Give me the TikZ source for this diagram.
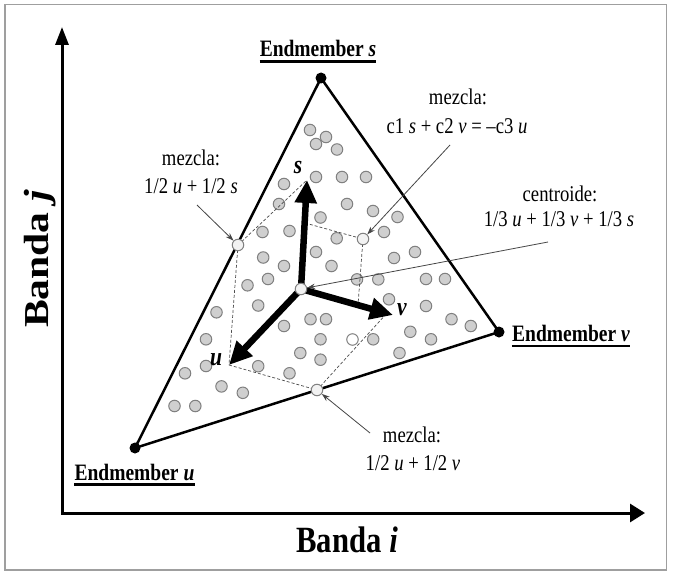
\documentclass[tikz,border=0pt]{standalone}
\usepackage{fontspec}
\setmainfont{Liberation Serif}
\newfontfamily\lblfont{Liberation Serif}[FakeStretch=0.83]
\newfontfamily\vfont{Liberation Serif}[FakeStretch=1.19]
\usetikzlibrary{arrows.meta}
\begin{document}
\begin{tikzpicture}[x=1pt,y=-1pt,
  frame/.style={draw=gray!75,line width=1.5pt},
  axis/.style={line width=3pt,line join=miter},
  tri/.style={line width=2.5pt,line join=round},
  vert/.style={circle,fill=black,minimum size=11pt,inner sep=0pt},
  dot/.style={circle,draw=gray,fill=gray!38,line width=1pt,minimum size=11.5pt,inner sep=0pt},
  wdot/.style={circle,draw=gray,fill=white,line width=1pt,minimum size=11.5pt,inner sep=0pt},
  mix/.style={circle,draw=gray,fill=gray!10,line width=1pt,minimum size=11.5pt,inner sep=0pt},
  guide/.style={draw=gray!60!black,line width=0.7pt,dash pattern=on 3pt off 2pt},
  big/.style={line width=6.5pt,-{Triangle[length=23pt,width=21pt]}},
  note/.style={draw=gray!55!black,line width=0.8pt,-{Stealth[length=8pt,width=5.5pt]}},
  lbl/.style={font=\lblfont\fontsize{22.5}{26}\selectfont,inner sep=0pt,anchor=base},
  emb/.style={font=\lblfont\bfseries\fontsize{23.5}{28}\selectfont,inner sep=0pt,anchor=base},
  vlbl/.style={font=\lblfont\bfseries\itshape\fontsize{26}{30}\selectfont,inner sep=0pt},
  uline/.style={line width=2.6pt}
]
\useasboundingbox (0,0) rectangle (674,575);
\fill[white] (0,0) rectangle (674,575);
\draw[frame] (5,4.5) rectangle (666.5,570);

% axes
\coordinate (O) at (62,513);
\coordinate (Ytip) at (62,27);
\coordinate (Xtip) at (645,513);
\draw[axis,{Triangle[length=18pt,width=13pt]}-{Triangle[length=15pt,width=18pt]}] (Ytip) -- (O) -- (Xtip);
\node[font=\lblfont\bfseries\fontsize{37}{44}\selectfont,inner sep=0pt,anchor=base] (bi) at (347,552) {Banda \textit{i}};
\node[font=\vfont\bfseries\fontsize{35}{42}\selectfont,inner sep=0pt,anchor=base,rotate=90] (bj) at (48,259) {Banda \textit{j}};

% triangle
\coordinate (S) at (321,78);
\coordinate (V) at (499,332);
\coordinate (U) at (135,448);
\draw[tri] (U) -- (V) -- (S) -- cycle;

% scattered pixels
\foreach \px/\py [count=\i] in {310/130,326/137,316/144,337/149.5,316/177,342/177,366/177,284/184,279/204,347/204,
  320.5/217.5,373/211,397.5/217,262.5/232,289.5/231,336.7/238.3,384/232,316/252,263.2/257.5,284/266,
  331.5/266,394/258,415/252,268/279,247.5/285.3,357/279.4,378.3/279.4,426/279,445/279,258.2/305.5,
  389/299.3,426/306,216.5/312.3,310.5/319.2,326/319.2,284/326,451.5/319.2,470.8/326,206/339.3,320.5/339.3,
  373.2/339.3,410.3/331.8,431/339.3,300.3/353,320.5/359.7,399.5/353,206/366,258.2/366.2,185/373.3,289.5/373.3,
  221.5/386.4,242.8/392.8,174.5/406,195.3/406}
  \node[dot] (d\i) at (\px,\py) {};
\node[wdot] (dw) at (352.5,339.5) {};

% key coordinates
\coordinate (cen) at (301,289);
\coordinate (ts) at (307,180);
\coordinate (tv) at (393,315);
\coordinate (tu) at (229,365);
\coordinate (mus) at (238,245);
\coordinate (muv) at (317,390);
\coordinate (mc) at (363,239);
\coordinate (ps) at (305,223);
\coordinate (pv) at (358,305);
\coordinate (pvt) at (388,312);

% dashed construction lines
\draw[guide] (mus) -- (ts);
\draw[guide] (mus) -- (tu);
\draw[guide] (tu) -- (muv);
\draw[guide] (muv) -- (pvt);
\draw[guide] (ps) -- (mc) -- (pv);

% thick vectors
\draw[big] (cen) -- (ts);
\draw[big] (cen) -- (tv);
\draw[big] (cen) -- (tu);
\node[vlbl] (ls) at (298,168) {s};
\node[vlbl] (lv) at (402,310) {v};
\node[vlbl] (lu) at (216,360) {u};

% special points
\node[mix] (MUS) at (mus) {};
\node[mix] (MUV) at (muv) {};
\node[mix] (MC) at (mc) {};
\node[mix] (CEN) at (cen) {};

% endmember vertices
\node[vert] (Sd) at (S) {};
\node[vert] (Vd) at (V) {};
\node[vert] (Ud) at (U) {};

\node[emb] (es) at (318,57) {Endmember \textit{s}};
\draw[uline] ([yshift=-4.5pt]es.base west) -- ([yshift=-4.5pt]es.base east);
\node[emb] (ev) at (571,341.5) {Endmember \textit{v}};
\draw[uline] ([yshift=-4.5pt]ev.base west) -- ([yshift=-4.5pt]ev.base east);
\node[emb] (eu) at (134.5,480) {Endmember \textit{u}};
\draw[uline] ([yshift=-4.5pt]eu.base west) -- ([yshift=-4.5pt]eu.base east);

% annotations
\node[lbl] (aus1) at (191,165) {mezcla:};
\node[lbl] (aus2) at (191,193) {1/2 \textit{u} + 1/2 \textit{s}};
\coordinate (nus) at (197,205);
\draw[note] (nus) -- (MUS);

\node[lbl] (ac1) at (458,105) {mezcla:};
\node[lbl] (ac2) at (457,133) {c1 \textit{s} + c2 \textit{v} = –c3 \textit{u}};
\coordinate (nc) at (450,145);
\draw[note] (nc) -- (MC);

\node[lbl] (ace1) at (560,201) {centroide:};
\node[lbl] (ace2) at (559,226) {1/3 \textit{u} + 1/3 \textit{v} + 1/3 \textit{s}};
\coordinate (ncen) at (548,242);
\draw[note] (ncen) -- (CEN);

\node[lbl] (auv1) at (412,442) {mezcla:};
\node[lbl] (auv2) at (413,470) {1/2 \textit{u} + 1/2 \textit{v}};
\coordinate (nuv) at (370,433);
\draw[note] (nuv) -- (MUV);
\end{tikzpicture}
\end{document}
